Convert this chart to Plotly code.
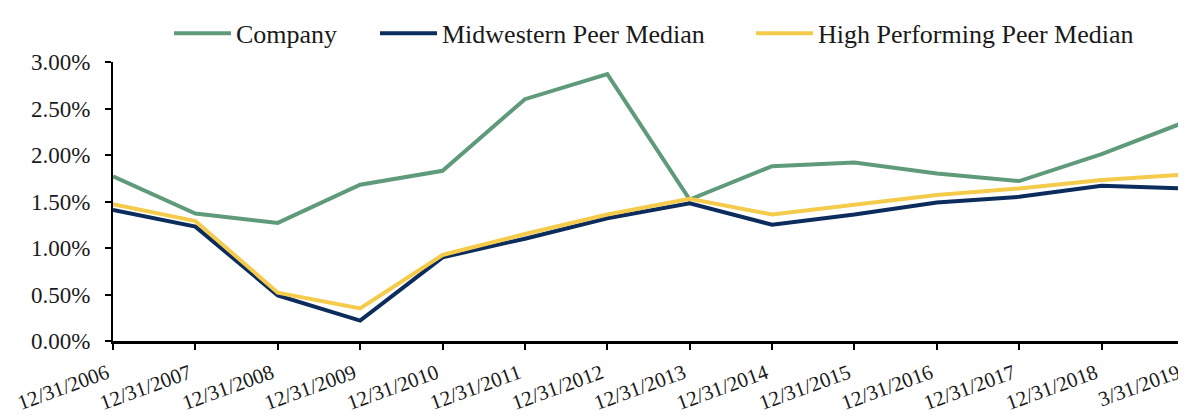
import plotly.graph_objects as go

dates = ["12/31/2006", "12/31/2007", "12/31/2008", "12/31/2009", "12/31/2010",
         "12/31/2011", "12/31/2012", "12/31/2013", "12/31/2014", "12/31/2015",
         "12/31/2016", "12/31/2017", "12/31/2018", "3/31/2019"]

company = [1.77, 1.37, 1.27, 1.68, 1.83, 2.60, 2.87, 1.52, 1.88, 1.92, 1.80, 1.72, 2.01, 2.35]
midwestern = [1.41, 1.23, 0.49, 0.22, 0.90, 1.10, 1.32, 1.48, 1.25, 1.36, 1.49, 1.55, 1.67, 1.64]
high_perf = [1.47, 1.29, 0.52, 0.35, 0.925, 1.15, 1.36, 1.53, 1.36, 1.47, 1.57, 1.64, 1.73, 1.79]

series = [
    ("Company", company, "#5F9B7B", "legend"),
    ("Midwestern Peer Median", midwestern, "#0B2C5C", "legend2"),
    ("High Performing Peer Median", high_perf, "#F5CB4C", "legend3"),
]

font_family = "Liberation Serif"

# page body has an 8px margin, so the figure is sized/offset to fill the 1186x420 window
W, H = 1178, 412
L, R, T, B = 105, 2, 51, 79
plot_w = W - L - R
plot_h = H - T - B
ITEM_W = 57

def legend_x(text_start_fig_px):
    return (text_start_fig_px - 40 - (ITEM_W - 30) - L) / plot_w

legend_y = 1 + (T - 22) / plot_h

fig = go.Figure()
for name, vals, color, lg in series:
    fig.add_trace(go.Scatter(
        x=list(range(len(dates))), y=vals, name=name, mode="lines",
        line=dict(color=color, width=4), legend=lg,
    ))

legend_common = dict(
    orientation="h", xanchor="left", y=legend_y, yanchor="middle",
    font=dict(family=font_family, size=26, color="#1a1a1a"),
    bgcolor="rgba(0,0,0,0)", borderwidth=0, itemwidth=ITEM_W,
)

fig.update_layout(
    width=W, height=H,
    margin=dict(l=L, r=R, t=T, b=B),
    paper_bgcolor="white", plot_bgcolor="white",
    font=dict(family=font_family, size=18, color="#1a1a1a"),
    showlegend=True,
    legend=dict(x=legend_x(228), **legend_common),
    legend2=dict(x=legend_x(434), **legend_common),
    legend3=dict(x=legend_x(810), **legend_common),
)

fig.update_xaxes(
    range=[0, len(dates) - 1], automargin=False, ticklabeloverflow="allow",
    tickmode="array", tickvals=list(range(len(dates))), ticktext=dates,
    tickangle=-20, ticklabelshift=-6, ticklabelstandoff=3,
    showgrid=False, zeroline=False,
    showline=True, linecolor="black", linewidth=3,
    ticks="outside", ticklen=6, tickwidth=2, tickcolor="black",
    tickfont=dict(family=font_family, size=21, color="#1a1a1a"),
)
fig.update_yaxes(
    range=[0, 3], dtick=0.5, tickformat=".2f", ticksuffix="%",
    automargin=False, ticklabelstandoff=10,
    showgrid=False, zeroline=False,
    showline=True, linecolor="black", linewidth=2,
    ticks="outside", ticklen=6, tickwidth=2, tickcolor="black",
    tickfont=dict(family=font_family, size=23, color="#1a1a1a"),
)

fig.write_html("out.html")
